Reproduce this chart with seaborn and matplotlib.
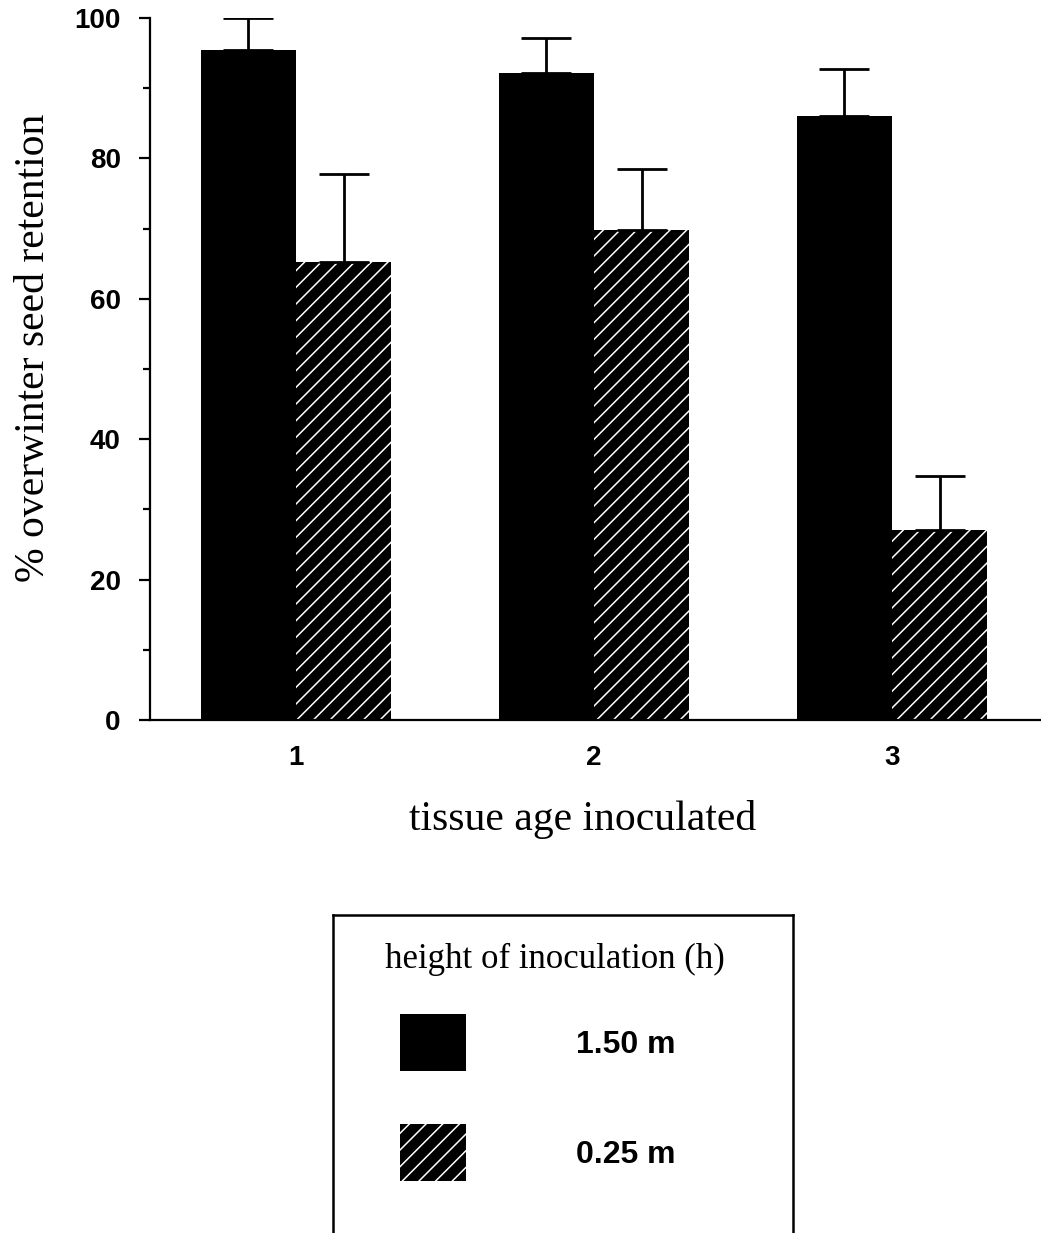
import numpy as np
import pandas as pd
import matplotlib
matplotlib.use("Agg")
import matplotlib.pyplot as plt
import matplotlib.patches as mpatches
from matplotlib.ticker import MultipleLocator
import seaborn as sns

# ---- data ----
tissue_age = ["1", "2", "3"]
heights = ["1.50 m", "0.25 m"]
retention_150 = [95.5, 92.2, 86.0]
retention_025 = [65.2, 69.8, 27.0]
err_150 = [4.5, 5.0, 6.7]
err_025 = [12.6, 8.7, 7.7]

df = pd.DataFrame({
    "tissue age inoculated": tissue_age * 2,
    "height": [heights[0]] * 3 + [heights[1]] * 3,
    "retention": retention_150 + retention_025,
})
errs = {heights[0]: err_150, heights[1]: err_025}

sns.set_theme(style="ticks")
plt.rcParams.update({
    "hatch.linewidth": 1.1,
    "text.color": "black",
    "axes.labelcolor": "black",
    "xtick.color": "black",
    "ytick.color": "black",
})

fig = plt.figure(figsize=(10.41, 12.33), dpi=100)
ax = fig.add_axes([150 / 1041, 1 - 720 / 1233, 1 - 150 / 1041, (720 - 18) / 1233])

sns.barplot(data=df, x="tissue age inoculated", y="retention", hue="height",
            hue_order=heights, palette=["black", "black"], width=0.64,
            gap=0, saturation=1, errorbar=None, legend=False, ax=ax,
            linewidth=0, edgecolor="black")

# style bars and add upper-only error bars
n = len(tissue_age)
for i, p in enumerate(ax.patches[:2 * n]):
    h = heights[i // n]
    j = i % n
    if h == heights[1]:
        p.set_facecolor("black")
        p.set_hatch("//")
        p.set_edgecolor("white")
        p.set_linewidth(0)
    x = p.get_x() + p.get_width() / 2
    top = p.get_height()
    ax.errorbar([x], [top], yerr=[[0], [errs[h][j]]], fmt="none",
                ecolor="black", elinewidth=2, capsize=18, capthick=2, zorder=1)

ax.set_ylim(0, 100)
ax.set_xlim(-0.49, 2.5)
ax.yaxis.set_major_locator(MultipleLocator(20))
ax.yaxis.set_minor_locator(MultipleLocator(10))
ax.tick_params(axis="y", which="major", length=8, width=1.6, pad=13)
ax.tick_params(axis="y", which="minor", length=5, width=1.6)
ax.tick_params(axis="x", length=0, pad=18)
for lab in ax.get_xticklabels() + ax.get_yticklabels():
    lab.set_fontfamily("Liberation Sans")
    lab.set_fontweight("bold")
    lab.set_fontsize(20)
for s in ["top", "right"]:
    ax.spines[s].set_visible(False)
for s in ["left", "bottom"]:
    ax.spines[s].set_linewidth(1.6)
    ax.spines[s].set_color("black")

serif = "Liberation Serif"
ax.set_ylabel("% overwinter seed retention", fontfamily=serif, fontsize=30)
ax.yaxis.set_label_coords(-0.109, 0.53)
ax.set_xlabel("tissue age inoculated", fontfamily=serif, fontsize=30)
ax.xaxis.set_label_coords(0.485, -0.114)

# legend box
lax = fig.add_axes([333 / 1041, -0.05, (793 - 333) / 1041, 1 - 915 / 1233 + 0.05])
lax.set_xticks([])
lax.set_yticks([])
for s in lax.spines.values():
    s.set_linewidth(1.8)
    s.set_color("black")
lax.patch.set_alpha(0)

lax.text(0.113, 0.860, "height of inoculation (h)", fontfamily=serif, fontsize=25,
         ha="left", va="baseline", transform=lax.transAxes)

handles = [mpatches.Patch(facecolor="black", edgecolor="black", linewidth=0),
           mpatches.Patch(facecolor="black", edgecolor="white", hatch="//", linewidth=0)]
leg = lax.legend(handles, heights,
                 loc="upper left", bbox_to_anchor=(0.1457, 0.738), frameon=False,
                 prop={"family": "Liberation Sans", "weight": "bold", "size": 23},
                 handlelength=2.06, handleheight=2.36, handletextpad=3.45,
                 labelspacing=1.66, borderpad=0, borderaxespad=0)

fig.savefig("out.png", dpi=100, facecolor="white")
